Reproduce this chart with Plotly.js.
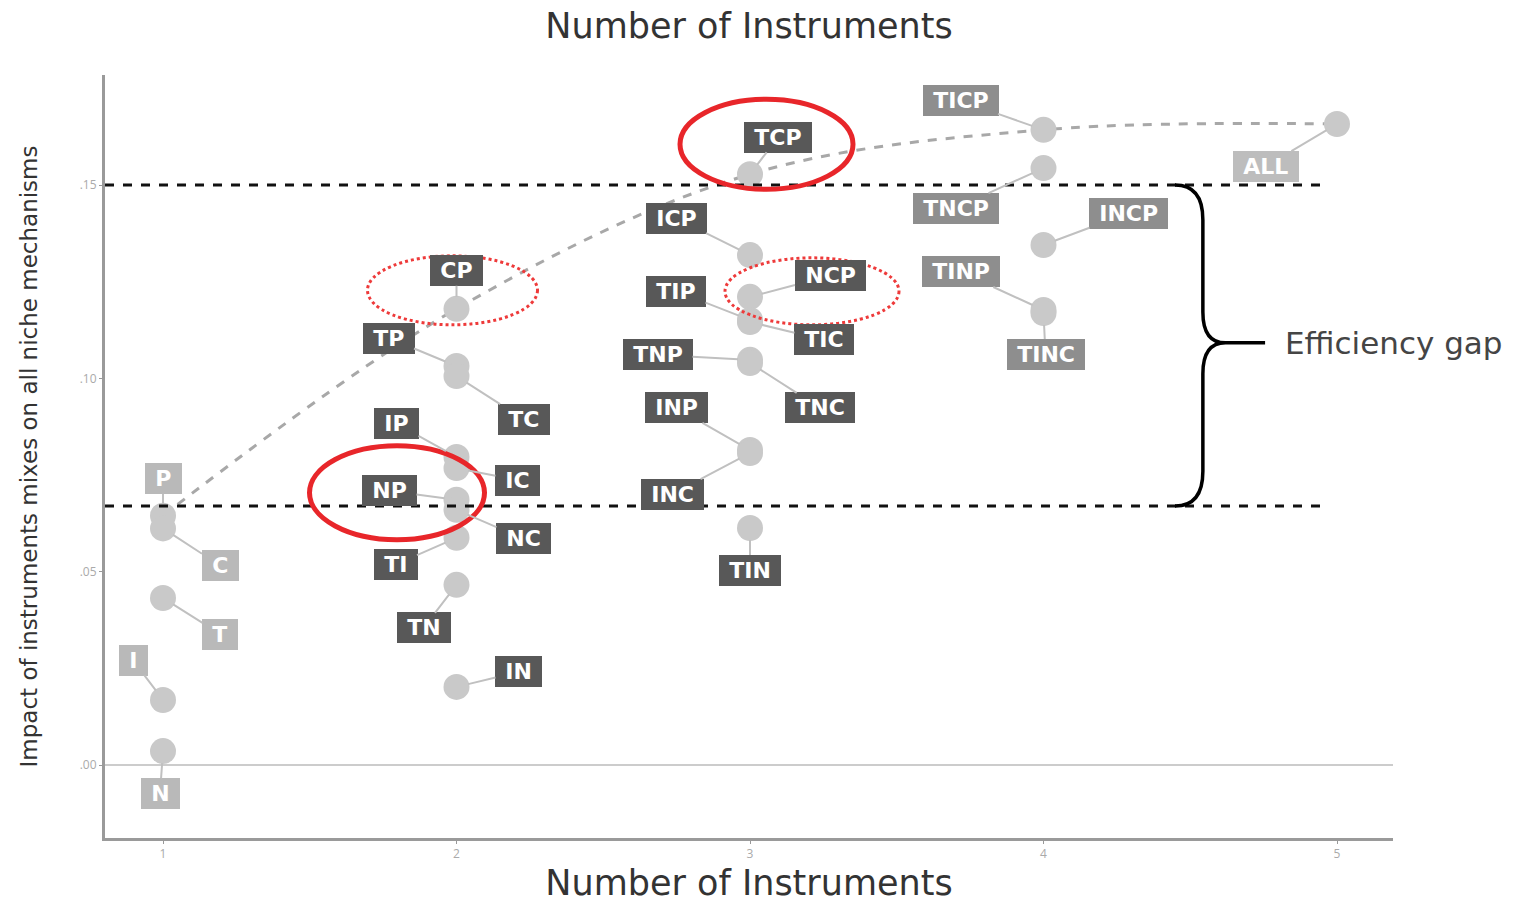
<!DOCTYPE html>
<html>
<head>
<meta charset="utf-8">
<script src="https://cdn.plot.ly/plotly-3.0.1.min.js"></script>
<style>html,body{margin:0;padding:0;background:#fff;}#chart{width:1524px;height:903px;}</style>
</head>
<body>
<div id="chart"></div>
<script>
// ---- data ----
const mixes = ['P','C','T','I','N',
  'CP','TP','TC','IP','IC','NP','NC','TI','TN','IN',
  'TCP','ICP','NCP','TIP','TIC','TNP','TNC','INP','INC','TIN',
  'TICP','TNCP','INCP','TINP','TINC',
  'ALL'];
const nInstruments = [1,1,1,1,1,
  2,2,2,2,2,2,2,2,2,2,
  3,3,3,3,3,3,3,3,3,3,
  4,4,4,4,4,
  5];
const impact = [0.0645,0.0612,0.0432,0.0168,0.0036,
  0.1180,0.1032,0.1006,0.0797,0.0768,0.0686,0.0660,0.0588,0.0466,0.0202,
  0.1528,0.1319,0.1211,0.1151,0.1146,0.1048,0.1040,0.0815,0.0807,0.0613,
  0.1643,0.1544,0.1345,0.1177,0.1169,
  0.1658];
const xTickVals = [1,2,3,4,5];
const xTickText = ['1','2','3','4','5'];
const yTickVals = [0,0.05,0.10,0.15];
const yTickText = ['.00','.05','.10','.15'];
const gapUpper = 0.150;
const gapLower = 0.067;

// ---- layout helpers (label offsets in pixels, styles) ----
const labelDx = [0,57,57,-30,-3,
  0,-68,67,-60,61,-67,67,-61,-33,62,
  28,-74,80,-74,74,-92,70,-74,-78,0,
  -83,-88,85,-83,2,
  -71];
const labelDy = [-37,37,36,-40,42,
  -38,-28,43,-33,12,-9,29,27,43,-15,
  -37,-37,-21,-29,18,-5,45,-42,41,42,
  -29,40,-32,-38,41,
  42];
const tierColor = {1:'#b9b9b9',2:'#585858',3:'#585858',4:'#8e8e8e',5:'#bdbdbd'};

// frontier: best mix at each number of instruments
const frontX = [], frontY = [];
xTickVals.forEach(k => {
  let best = -Infinity;
  impact.forEach((v,i) => { if (nInstruments[i] === k && v > best) best = v; });
  frontX.push(k); frontY.push(best);
});

const xr = [0.8024, 5.1908];
const yr = [-0.01888, 0.17848];

const traces = [
  {x: frontX, y: frontY, mode: 'lines', type: 'scatter',
   line: {color: '#a8a8a8', width: 3, dash: 'dash', shape: 'spline', smoothing: 1.0},
   hoverinfo: 'skip', showlegend: false},
  {x: nInstruments, y: impact, mode: 'markers', type: 'scatter',
   marker: {size: 26, color: '#c9c9c9'}, text: mixes, showlegend: false}
];

const annotations = mixes.map((m,i) => ({
  x: nInstruments[i], y: impact[i], xref: 'x', yref: 'y',
  text: '<b>&#8196;' + m + '&#8196;</b>', showarrow: true, arrowhead: 0, arrowwidth: 2,
  arrowcolor: '#c0c0c0', standoff: 12, ax: labelDx[i], ay: labelDy[i],
  bgcolor: tierColor[nInstruments[i]], bordercolor: tierColor[nInstruments[i]],
  borderpad: 2, font: {family: 'DejaVu Sans, sans-serif', size: 22, color: '#ffffff'}
}));
annotations.push({
  x: 4.816, y: 0.1092, xref: 'x', yref: 'y', xanchor: 'left', yanchor: 'middle',
  text: 'Efficiency gap', showarrow: false,
  font: {family: 'DejaVu Sans, sans-serif', size: 31, color: '#454545'}
});

function idx(name){ return mixes.indexOf(name); }
function ellipse(name, x0, x1, y0, y1, dash){
  const i = idx(name);
  return {type: 'circle', xref: 'x', yref: 'y', xsizemode: 'pixel', ysizemode: 'pixel',
    xanchor: nInstruments[i], yanchor: impact[i], x0: x0, x1: x1, y0: y0, y1: y1,
    line: {color: dash ? '#ee3a3a' : '#e8262a', width: dash ? 3 : 5, dash: dash ? 'dot' : 'solid'},
    layer: 'above'};
}

const braceX0 = 4.448, braceX1 = 4.543, braceTip = 4.755, braceMid = 0.1092;
const bracePath = `M ${braceX0},${gapUpper} Q ${braceX1},${gapUpper} ${braceX1},${gapUpper-0.009}`
  + ` L ${braceX1},${braceMid+0.008} Q ${braceX1},${braceMid} 4.62,${braceMid} L ${braceTip},${braceMid}`
  + ` M 4.62,${braceMid} Q ${braceX1},${braceMid} ${braceX1},${braceMid-0.008}`
  + ` L ${braceX1},${gapLower+0.009} Q ${braceX1},${gapLower} ${braceX0},${gapLower}`;

const shapes = [
  {type: 'line', xref: 'x', yref: 'y', x0: xr[0], x1: 4.96, y0: gapUpper, y1: gapUpper,
   line: {color: '#111', width: 3, dash: 'dash'}, layer: 'above'},
  {type: 'line', xref: 'x', yref: 'y', x0: xr[0], x1: 4.96, y0: gapLower, y1: gapLower,
   line: {color: '#111', width: 3, dash: 'dash'}, layer: 'above'},
  {type: 'path', xref: 'x', yref: 'y', path: bracePath, line: {color: '#000', width: 3.5}},
  ellipse('TCP', -70, 103, -15, 75, false),
  ellipse('NP', -147, 28, -40, 54, false),
  ellipse('CP', -89, 81, -16, 53, true),
  ellipse('NCP', -25, 149, -28, 39, true)
];

const titleFont = {family: 'DejaVu Sans, sans-serif', size: 35, color: '#333'};

const layout = {
  width: 1524, height: 903,
  margin: {l: 105, r: 131, t: 75, b: 65, pad: 0},
  paper_bgcolor: '#ffffff', plot_bgcolor: '#ffffff',
  title: {text: 'Number of Instruments', x: 0.5, xref: 'paper', y: 0.972, yref: 'container',
    yanchor: 'middle', font: titleFont},
  xaxis: {range: xr, tickvals: xTickVals, ticktext: xTickText, showgrid: false, zeroline: false,
    showline: true, linecolor: '#9a9a9a', linewidth: 3, ticks: 'outside', ticklen: 3, tickcolor: '#999',
    tickfont: {family: 'Open Sans, sans-serif', size: 12, color: '#aaa'},
    title: {text: 'Number of Instruments', standoff: 10, font: titleFont}},
  yaxis: {range: yr, tickvals: yTickVals, ticktext: yTickText, showgrid: false,
    zeroline: true, zerolinecolor: '#cccccc', zerolinewidth: 2,
    showline: true, linecolor: '#9a9a9a', linewidth: 3, ticks: 'outside', ticklen: 3, tickcolor: '#999',
    tickfont: {family: 'Open Sans, sans-serif', size: 12, color: '#aaa'},
    title: {text: 'Impact of instruments mixes on all niche mechanisms', standoff: 36,
      font: {family: 'DejaVu Sans, sans-serif', size: 23, color: '#333'}}},
  annotations: annotations,
  shapes: shapes,
  showlegend: false
};

Plotly.newPlot('chart', traces, layout, {displayModeBar: false, staticPlot: true});
</script>
</body>
</html>
